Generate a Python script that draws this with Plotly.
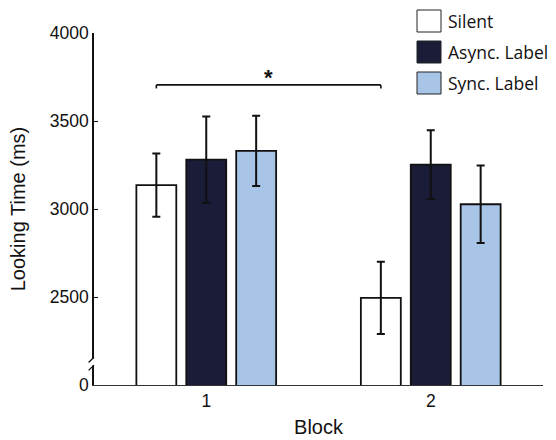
import plotly.graph_objects as go

blocks = [1, 2]
block_labels = ["1", "2"]
series_names = ["Silent", "Async. Label", "Sync. Label"]
silent = [3136, 2495]
async_label = [3280, 3252]
sync_label = [3330, 3027]
silent_err = [180, 205]
async_err = [245, 195]
sync_err = [200, 220]
ytick_vals = [2000, 2500, 3000, 3500, 4000]
ytick_text = ["0", "2500", "3000", "3500", "4000"]

colors = ["#ffffff", "#1b1c38", "#a8c5e7"]
values = [silent, async_label, sync_label]
errors = [silent_err, async_err, sync_err]

fig = go.Figure()
for name, vals, errs, col in zip(series_names, values, errors, colors):
    fig.add_trace(go.Bar(
        x=blocks, y=vals, name=name,
        marker=dict(color=col, line=dict(color="#111111", width=1.8)),
        error_y=dict(type="data", array=errs, color="#111111", thickness=2, width=4),
        showlegend=False,
    ))

font = "Liberation Sans, Arial, Helvetica, sans-serif"
fig.update_layout(
    width=556, height=440,
    margin=dict(l=94, r=13, t=33, b=55),
    plot_bgcolor="white", paper_bgcolor="white",
    barmode="group", bargap=0.333, bargroupgap=0.2,
    font=dict(family=font, size=17.5, color="#111111"),
    xaxis=dict(range=[0.5, 2.5], tickvals=blocks, ticktext=block_labels,
               showline=True, linecolor="#333333", linewidth=1.2,
               ticks="", showgrid=False, zeroline=False, automargin=False,
               title=dict(text="Block", font=dict(size=20), standoff=9)),
    yaxis=dict(range=[2000, 4000], tickvals=ytick_vals, ticktext=ytick_text,
               showline=True, linecolor="#111111", linewidth=1.5,
               ticks="inside", ticklen=4, tickcolor="#111111",
               showgrid=False, zeroline=False, automargin=False,
               title=dict(text="Looking Time (ms)", font=dict(size=20), standoff=19)),
)

# significance bracket between Silent bars of block 1 and block 2
off = (1 - 0.333) / 3
x0 = blocks[0] - off
x1 = blocks[1] - off
yb = 3705
fig.add_shape(type="line", x0=x0, x1=x1, y0=yb, y1=yb, line=dict(color="#111111", width=1.6))
fig.add_shape(type="line", x0=x0, x1=x0, y0=yb, y1=yb - 20, line=dict(color="#111111", width=1.6))
fig.add_shape(type="line", x0=x1, x1=x1, y0=yb, y1=yb - 20, line=dict(color="#111111", width=1.6))
fig.add_annotation(x=(x0 + x1) / 2, y=yb, text="<b>*</b>", showarrow=False, yanchor="bottom",
                   yshift=-7, font=dict(size=22, color="#111111"))

# axis break on y axis
fig.add_shape(type="rect", xref="paper", yref="y", x0=-0.006, x1=0.006, y0=2110, y1=2150,
              fillcolor="white", line=dict(width=0), layer="above")
for yy in (2105, 2150):
    fig.add_shape(type="line", xref="paper", yref="y", x0=-0.012, x1=0.0, y0=yy - 22, y1=yy + 8,
                  line=dict(color="#111111", width=1.3))

# legend drawn manually
leg_font = "Open Sans, Noto Sans, sans-serif"
box_w = 24 / 449
for i, (name, col) in enumerate(zip(series_names, colors)):
    top = 1.0 + (33 - 10 - 31 * i) / 352
    bot = top - 22 / 352
    fig.add_shape(type="rect", xref="paper", yref="paper",
                  x0=(417 - 94) / 449, x1=(417 - 94) / 449 + box_w, y0=bot, y1=top,
                  fillcolor=col, line=dict(color="#222222", width=1))
    fig.add_annotation(xref="paper", yref="paper", x=(446 - 94) / 449, y=(top + bot) / 2,
                       text=name, showarrow=False, xanchor="left", yanchor="middle",
                       font=dict(family=leg_font, size=17.5, color="#111111"))

fig.write_html("out.html", config={"displayModeBar": False},
               post_script="document.body.style.margin='0';document.body.style.overflow='hidden';")
